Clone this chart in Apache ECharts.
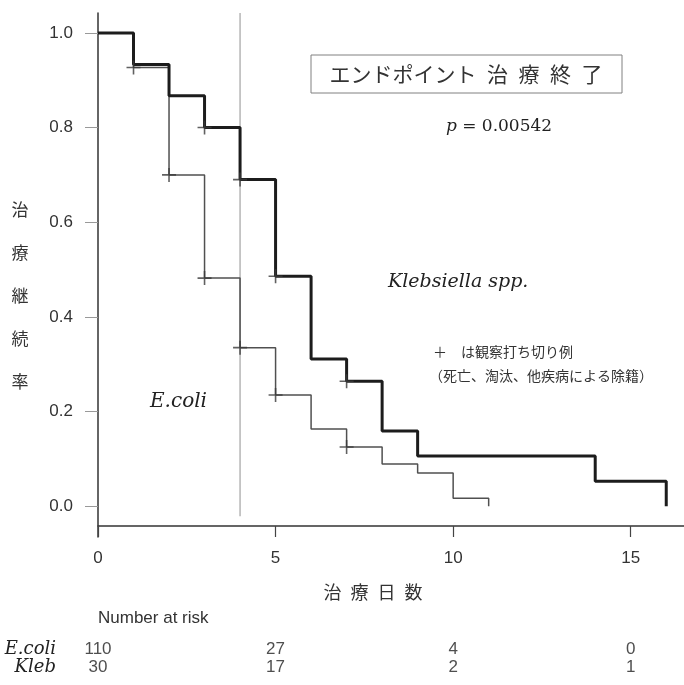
<!DOCTYPE html>
<html>
<head>
<meta charset="utf-8">
<script src="https://cdn.jsdelivr.net/npm/echarts@6/dist/echarts.min.js"></script>
<style>html,body{margin:0;padding:0;background:#fff}#c{width:684px;height:685px}</style>
</head>
<body>
<div id="c"></div>
<script>
// ---- data ----
const klebTimes = [0, 1, 2, 3, 4, 5, 6, 7, 8, 9, 14, 16];
const klebSurv = [1.0, 0.933, 0.867, 0.80, 0.69, 0.486, 0.311, 0.264, 0.159, 0.106, 0.053, 0.0];
const ecoliTimes = [0, 1, 2, 3, 4, 5, 6, 7, 8, 9, 10, 11];
const ecoliSurv = [1.0, 0.927, 0.70, 0.482, 0.335, 0.235, 0.163, 0.125, 0.089, 0.070, 0.017, 0.0];
const klebCensorTimes = [3, 4, 5, 7];
const klebCensorSurv = [0.80, 0.69, 0.486, 0.264];
const ecoliCensorTimes = [1, 2, 3, 4, 5, 7];
const ecoliCensorSurv = [0.927, 0.70, 0.482, 0.335, 0.235, 0.125];
const refLineX = 4;
const refLineY = [-0.021, 1.042];
const xTicks = [0, 5, 10, 15];
const yTicks = [0, 0.2, 0.4, 0.6, 0.8, 1.0];
const riskGroups = ['E.coli', 'Kleb'];
const riskTimes = [0, 5, 10, 15];
const riskEcoli = [110, 27, 4, 0];
const riskKleb = [30, 17, 2, 1];

const zip = (a, b) => a.map((v, i) => [v, b[i]]);
const riskData = [];
riskTimes.forEach((t, i) => { riskData.push([t, riskGroups[0], riskEcoli[i]]); riskData.push([t, riskGroups[1], riskKleb[i]]); });

const plus = 'path://M0,6.2H14V7.8H0Z M6.2,0H7.8V14H6.2Z';
const serif = '"DejaVu Serif", "Liberation Serif", serif';
const cjk = '"Noto Sans CJK JP", sans-serif';
const sans = '"Liberation Sans", Arial, sans-serif';

const chart = echarts.init(document.getElementById('c'), null, {renderer: 'canvas'});
chart.setOption({
  animation: false,
  backgroundColor: '#fff',
  grid: [
    {left: 98, right: 0, top: 13, bottom: 148, containLabel: false},
    {left: 98, right: 0, top: 640, height: 36, containLabel: false}
  ],
  xAxis: [{
    gridIndex: 0, type: 'value', min: 0, max: 16.5, offset: -11, position: 'bottom',
    axisLine: {show: true, onZero: false, lineStyle: {color: '#333', width: 1.5}},
    axisTick: {show: true, length: 11, customValues: xTicks, lineStyle: {color: '#444', width: 1.2}},
    axisLabel: {customValues: xTicks, margin: 24, fontSize: 17, fontFamily: sans, color: '#333'},
    splitLine: {show: false}
  }, {
    gridIndex: 1, type: 'value', min: 0, max: 16.5, show: false
  }],
  yAxis: [{
    gridIndex: 0, type: 'value', min: -0.065, max: 1.042,
    axisLine: {show: true, onZero: false, lineStyle: {color: '#333', width: 1.5}},
    axisTick: {show: true, length: 13, customValues: yTicks, lineStyle: {color: '#999', width: 1}},
    axisLabel: {customValues: yTicks, margin: 25, fontSize: 17, fontFamily: sans, color: '#333',
      formatter: v => v.toFixed(1)},
    splitLine: {show: false}
  }, {
    gridIndex: 1, type: 'category', data: riskGroups, inverse: true,
    axisLine: {show: false}, axisTick: {show: false}, splitLine: {show: false},
    axisLabel: {interval: 0, margin: 42, fontSize: 18, fontStyle: 'italic', fontFamily: serif, color: '#222'}
  }],
  series: [
    {type: 'line', xAxisIndex: 0, yAxisIndex: 0, data: zip(refLineY.map(() => refLineX), refLineY),
      symbol: 'none', lineStyle: {color: '#b5b5b5', width: 1.5}, z: 1, silent: true},
    {type: 'line', name: 'E.coli', step: 'end', data: zip(ecoliTimes, ecoliSurv), symbol: 'none',
      lineStyle: {color: '#505050', width: 1.5}, z: 2},
    {type: 'line', name: 'Kleb', step: 'end', data: zip(klebTimes, klebSurv), symbol: 'none',
      lineStyle: {color: '#1c1c1c', width: 3}, z: 3},
    {type: 'scatter', data: zip(ecoliCensorTimes, ecoliCensorSurv), symbol: plus, symbolSize: 14,
      itemStyle: {color: '#3a3a3a'}, z: 4},
    {type: 'scatter', data: zip(klebCensorTimes, klebCensorSurv), symbol: plus, symbolSize: 14,
      itemStyle: {color: '#3a3a3a'}, z: 4},
    {type: 'scatter', xAxisIndex: 1, yAxisIndex: 1, data: riskData, symbolSize: 0,
      label: {show: true, position: 'inside', formatter: p => String(p.value[2]), fontSize: 17,
        fontFamily: sans, color: '#222'}}
  ],
  graphic: [
    {type: 'rect', shape: {x: 311, y: 55, width: 311, height: 38},
      style: {fill: '#fff', stroke: '#808080', lineWidth: 1}},
    {type: 'text', x: 466, y: 74, style: {text: 'エンドポイント\u2002治\u2002療\u2002終\u2002了', font: '21px ' + cjk,
      fill: '#333', align: 'center', verticalAlign: 'middle'}},
    {type: 'text', x: 499, y: 127, style: {text: '{i|p} = 0.00542', align: 'center', verticalAlign: 'middle',
      font: '17px ' + serif, fill: '#222', rich: {i: {fontStyle: 'italic', fontSize: 17, fontFamily: serif}}}},
    {type: 'text', x: 388, y: 282, style: {text: 'Klebsiella spp.', font: 'italic 19px ' + serif,
      fill: '#222', verticalAlign: 'middle'}},
    {type: 'text', x: 150, y: 402, style: {text: 'E.coli', font: 'italic 20px ' + serif,
      fill: '#222', verticalAlign: 'middle'}},
    {type: 'text', x: 433, y: 352, style: {text: '＋　は観察打ち切り例', font: '14px ' + cjk,
      fill: '#333', verticalAlign: 'middle'}},
    {type: 'text', x: 429, y: 376, style: {text: '（死亡、淘汰、他疾病による除籍）', font: '14px ' + cjk,
      fill: '#333', verticalAlign: 'middle'}},
    {type: 'text', x: 20, y: 296, style: {text: '治\n療\n継\n続\n率', font: '17px ' + cjk, lineHeight: 43,
      fill: '#333', align: 'center', verticalAlign: 'middle'}},
    {type: 'text', x: 373, y: 592, style: {text: '治\u2002療\u2002日\u2002数', font: '18px ' + cjk,
      fill: '#333', align: 'center', verticalAlign: 'middle'}},
    {type: 'text', x: 98, y: 618, style: {text: 'Number at risk', font: '17px ' + sans,
      fill: '#333', verticalAlign: 'middle'}}
  ]
});
</script>
</body>
</html>
